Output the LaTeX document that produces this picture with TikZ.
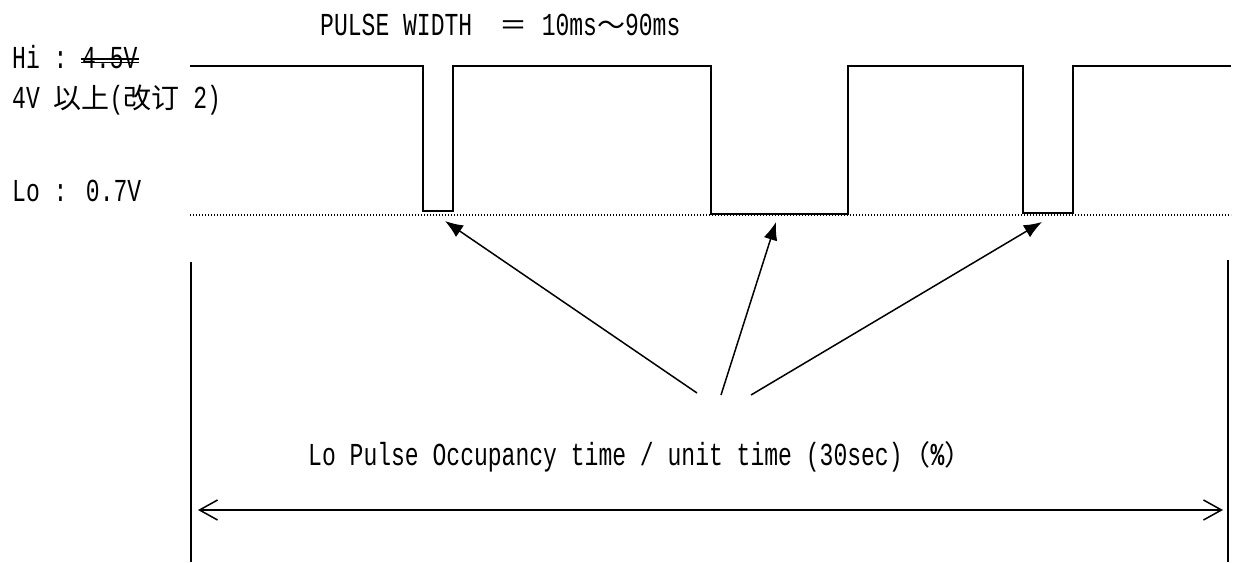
\documentclass[tikz,border=0pt]{standalone}
\usepackage{fontspec}
\setmainfont[FakeStretch=0.72]{Liberation Mono}
\newfontfamily\cjk{Noto Sans CJK JP}
\usetikzlibrary{arrows.meta,positioning}
\newcommand{\jtext}[1]{{\cjk\fontsize{28}{32}\selectfont #1}}

\begin{document}
\begin{tikzpicture}[x=1pt,y=-1pt,
	lbl/.style={inner sep=0pt,anchor=base west,font=\fontsize{32}{36}\selectfont},
	sig/.style={line width=1.7pt},
	pointer/.style={-{Latex[length=18pt,width=14pt]},line width=1.5pt},
	span/.style={{Straight Barb[length=18pt,width=20pt]}-{Straight Barb[length=18pt,width=20pt]},line width=1.5pt}]
	\useasboundingbox (0,0) rectangle (1236,562);

	% textes
	\node[lbl] (pw) at (320,35) {PULSE WIDTH\ \ \jtext{＝}\ 10ms\jtext{～}90ms};
	\node[lbl] (hi) at (12,68) {Hi :};
	\node[lbl] (hiold) at (82,68) {4.5V};
	\node[lbl] (hinew) at (12,108) {4V \jtext{以上}(\jtext{改订} 2)};
	\node[lbl] (lo) at (12,201) {Lo : 0.7V};
	\node[lbl] (occ) at (308,465) {Lo Pulse Occupancy time / unit time (30sec)\jtext{（}\textbf{\%}\jtext{）}};

	% barre 4.5V
	\draw[line width=1.2pt] ([xshift=-1pt,yshift=9pt]hiold.base west) -- ([xshift=1pt,yshift=9pt]hiold.base east);
	\draw[line width=1.2pt] ([xshift=-1pt,yshift=5.5pt]hiold.base west) -- ([xshift=1pt,yshift=5.5pt]hiold.base east);

	% signal
	\draw[sig] (190,66) -- (423,66) -- (423,211) -- (453,211) -- (453,66)
		-- (711,66) -- (711,214) -- (848,214) -- (848,66)
		-- (1023,66) -- (1023,213) -- (1073,213) -- (1073,66) -- (1231,66);

	% niveau Lo
	\draw[line width=1.2pt,dash pattern=on 1.2pt off 1.8pt] (190,215) -- (1231,215);

	% fleches vers les impulsions
	\coordinate (t1) at (445,221);
	\coordinate (t2) at (776,222);
	\coordinate (t3) at (1042,222);
	\coordinate (s1) at (697,393);
	\coordinate (s2) at (721,395);
	\coordinate (s3) at (751,395);
	\foreach \i in {1,2,3}
		\draw[pointer] (s\i) -- (t\i);

	% bornes
	\coordinate (lt) at (191,262);
	\coordinate (lb) at (191,562);
	\coordinate (rt) at (1228,260);
	\coordinate (rb) at (1228,562);
	\draw[line width=1.8pt] (lt) -- (lb);
	\draw[line width=1.8pt] (rt) -- (rb);

	% duree unitaire
	\coordinate (la) at (198,510);
	\coordinate (ra) at (1223,510);
	\draw[span] (la) -- (ra);
\end{tikzpicture}
\end{document}
